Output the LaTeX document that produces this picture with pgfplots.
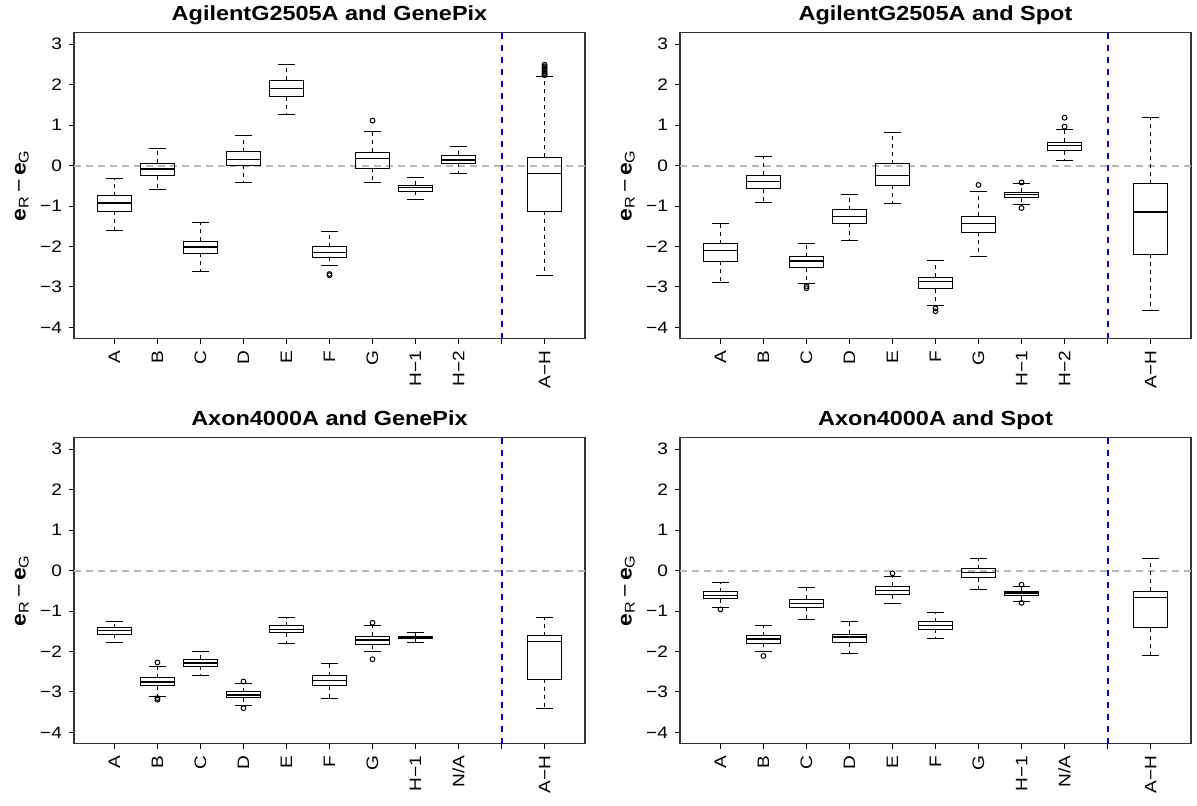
\documentclass[border=0pt]{standalone}
\usepackage{fontspec}
\setmainfont{Liberation Sans}[FakeStretch=1.15]
\usepackage{pgfplots}
\pgfplotsset{compat=1.18}
\usepgfplotslibrary{statistics}

\pgfplotsset{
  boxplot/draw/lower whisker/.code={%
    \draw[dash pattern=on 2pt off 2pt]
      (boxplot box cs:\pgfplotsboxplotvalue{lower quartile},0.5) --
      (boxplot box cs:\pgfplotsboxplotvalue{lower whisker},0.5);
    \draw[solid]
      (boxplot whisker cs:\pgfplotsboxplotvalue{lower whisker},0) --
      (boxplot whisker cs:\pgfplotsboxplotvalue{lower whisker},1);
  },
  boxplot/draw/upper whisker/.code={%
    \draw[dash pattern=on 2pt off 2pt]
      (boxplot box cs:\pgfplotsboxplotvalue{upper quartile},0.5) --
      (boxplot box cs:\pgfplotsboxplotvalue{upper whisker},0.5);
    \draw[solid]
      (boxplot whisker cs:\pgfplotsboxplotvalue{upper whisker},0) --
      (boxplot whisker cs:\pgfplotsboxplotvalue{upper whisker},1);
  },
  boxplot/every median/.style={line width=0.8pt},
  bx/.style={black, line width=0.5pt, solid, mark=o, mark size=1.2pt,
    mark options={solid, line width=0.5pt},
    boxplot/draw direction=y,
    boxplot/box extend=0.8, boxplot/whisker extend=0.4},
  every axis title shift=0pt,
  panel/.style={
    scale only axis, width=255.5pt, height=153.25pt,
    xmin=0.06, xmax=11.94, ymin=-4.28, ymax=3.29,
    xtick={1,...,11}, ytick={-4,...,3},
    yticklabels={−4,−3,−2,−1,0,1,2,3},
    tick align=outside, tick pos=left,
    major tick length=2.5pt,
    axis line style={line width=0.6pt, draw=black!80},
    every tick/.style={black, line width=0.5pt},
    tick label style={font=\fontsize{8.3}{9}\selectfont},
    xticklabel style={rotate=90, anchor=east},
    title style={font=\bfseries\fontsize{10.2}{12}\selectfont, at={(0.5,1)}, anchor=base, yshift=6pt},
    ylabel={\textbf{e}\textsubscript{R}\,−\,\textbf{e}\textsubscript{G}},
    ylabel style={font=\fontsize{10}{12}\selectfont, at={(axis description cs:-0.102,0.5)}, anchor=center},
    anchor=north west,
  },
  zero/.style={black!28, line width=1pt, dash pattern=on 3.5pt off 2.5pt},
  sep/.style={blue, line width=1pt, dash pattern=on 3pt off 3pt},
}

\begin{document}
\begin{tikzpicture}
\useasboundingbox (0,0) rectangle (598.5pt,-402.5pt);

% ---------- Panel 1 ----------
\begin{axis}[panel, at={(37pt,-16.15pt)}, title={AgilentG2505A and GenePix},
  xticklabels={A,B,C,D,E,F,G,H−1,H−2,,A−H}]
\addplot[zero] coordinates {(0.06,0) (11.94,0)};
\addplot[sep] coordinates {(10,-4.28) (10,3.29)};
\addplot[bx, boxplot prepared={draw position=1, lower whisker=-1.61, lower quartile=-1.13, median=-0.93, upper quartile=-0.75, upper whisker=-0.33}] coordinates {};
\addplot[bx, boxplot prepared={draw position=2, lower whisker=-0.59, lower quartile=-0.25, median=-0.09, upper quartile=0.06, upper whisker=0.41}] coordinates {};
\addplot[bx, boxplot prepared={draw position=3, lower whisker=-2.61, lower quartile=-2.17, median=-2.01, upper quartile=-1.87, upper whisker=-1.41}] coordinates {};
\addplot[bx, boxplot prepared={draw position=4, lower whisker=-0.41, lower quartile=0.01, median=0.15, upper quartile=0.34, upper whisker=0.75}] coordinates {};
\addplot[bx, boxplot prepared={draw position=5, lower whisker=1.26, lower quartile=1.70, median=1.90, upper quartile=2.10, upper whisker=2.49}] coordinates {};
\addplot[bx, boxplot prepared={draw position=6, lower whisker=-2.48, lower quartile=-2.26, median=-2.15, upper quartile=-2.01, upper whisker=-1.63}] coordinates {(0,-2.68) (0,-2.71)};
\addplot[bx, boxplot prepared={draw position=7, lower whisker=-0.43, lower quartile=-0.07, median=0.17, upper quartile=0.33, upper whisker=0.84}] coordinates {(0,1.11)};
\addplot[bx, boxplot prepared={draw position=8, lower whisker=-0.83, lower quartile=-0.63, median=-0.54, upper quartile=-0.49, upper whisker=-0.30}] coordinates {};
\addplot[bx, boxplot prepared={draw position=9, lower whisker=-0.20, lower quartile=0.05, median=0.14, upper quartile=0.25, upper whisker=0.48}] coordinates {};
\addplot[bx, boxplot prepared={draw position=11, lower whisker=-2.71, lower quartile=-1.13, median=-0.20, upper quartile=0.21, upper whisker=2.20}] coordinates {(0,2.23) (0,2.26) (0,2.29) (0,2.33) (0,2.37) (0,2.41) (0,2.45) (0,2.49)};
\end{axis}

% ---------- Panel 2 ----------
\begin{axis}[panel, at={(340pt,-16.15pt)}, title={AgilentG2505A and Spot},
  xticklabels={A,B,C,D,E,F,G,H−1,H−2,,A−H}]
\addplot[zero] coordinates {(0.06,0) (11.94,0)};
\addplot[sep] coordinates {(10,-4.28) (10,3.29)};
\addplot[bx, boxplot prepared={draw position=1, lower whisker=-2.89, lower quartile=-2.36, median=-2.10, upper quartile=-1.93, upper whisker=-1.42}] coordinates {};
\addplot[bx, boxplot prepared={draw position=2, lower whisker=-0.91, lower quartile=-0.57, median=-0.39, upper quartile=-0.24, upper whisker=0.23}] coordinates {};
\addplot[bx, boxplot prepared={draw position=3, lower whisker=-2.92, lower quartile=-2.52, median=-2.36, upper quartile=-2.25, upper whisker=-1.92}] coordinates {(0,-2.98) (0,-3.03)};
\addplot[bx, boxplot prepared={draw position=4, lower whisker=-1.86, lower quartile=-1.42, median=-1.26, upper quartile=-1.09, upper whisker=-0.72}] coordinates {};
\addplot[bx, boxplot prepared={draw position=5, lower whisker=-0.95, lower quartile=-0.49, median=-0.25, upper quartile=0.04, upper whisker=0.81}] coordinates {};
\addplot[bx, boxplot prepared={draw position=6, lower whisker=-3.45, lower quartile=-3.04, median=-2.86, upper quartile=-2.76, upper whisker=-2.34}] coordinates {(0,-3.53) (0,-3.60)};
\addplot[bx, boxplot prepared={draw position=7, lower whisker=-2.25, lower quartile=-1.65, median=-1.43, upper quartile=-1.25, upper whisker=-0.63}] coordinates {(0,-0.48)};
\addplot[bx, boxplot prepared={draw position=8, lower whisker=-0.97, lower quartile=-0.79, median=-0.72, upper quartile=-0.66, upper whisker=-0.45}] coordinates {(0,-0.42) (0,-1.05)};
\addplot[bx, boxplot prepared={draw position=9, lower whisker=0.13, lower quartile=0.37, median=0.49, upper quartile=0.58, upper whisker=0.90}] coordinates {(0,0.96) (0,1.18)};
\addplot[bx, boxplot prepared={draw position=11, lower whisker=-3.59, lower quartile=-2.19, median=-1.15, upper quartile=-0.45, upper whisker=1.18}] coordinates {};
\end{axis}

% ---------- Panel 3 ----------
\begin{axis}[panel, at={(37pt,-218.65pt)}, title={Axon4000A and GenePix},
  xticklabels={A,B,C,D,E,F,G,H−1,N/A,,A−H}]
\addplot[zero] coordinates {(0.06,0) (11.94,0)};
\addplot[sep] coordinates {(10,-4.28) (10,3.29)};
\addplot[bx, boxplot prepared={draw position=1, lower whisker=-1.78, lower quartile=-1.57, median=-1.48, upper quartile=-1.41, upper whisker=-1.25}] coordinates {};
\addplot[bx, boxplot prepared={draw position=2, lower whisker=-3.11, lower quartile=-2.84, median=-2.75, upper quartile=-2.65, upper whisker=-2.38}] coordinates {(0,-2.27) (0,-3.15) (0,-3.19)};
\addplot[bx, boxplot prepared={draw position=3, lower whisker=-2.59, lower quartile=-2.37, median=-2.28, upper quartile=-2.19, upper whisker=-2.00}] coordinates {};
\addplot[bx, boxplot prepared={draw position=4, lower whisker=-3.33, lower quartile=-3.14, median=-3.07, upper quartile=-2.99, upper whisker=-2.80}] coordinates {(0,-2.74) (0,-3.40)};
\addplot[bx, boxplot prepared={draw position=5, lower whisker=-1.80, lower quartile=-1.54, median=-1.46, upper quartile=-1.37, upper whisker=-1.17}] coordinates {};
\addplot[bx, boxplot prepared={draw position=6, lower whisker=-3.17, lower quartile=-2.84, median=-2.72, upper quartile=-2.60, upper whisker=-2.30}] coordinates {};
\addplot[bx, boxplot prepared={draw position=7, lower whisker=-2.00, lower quartile=-1.83, median=-1.71, upper quartile=-1.62, upper whisker=-1.37}] coordinates {(0,-1.29) (0,-2.19)};
\addplot[bx, boxplot prepared={draw position=8, lower whisker=-1.78, lower quartile=-1.69, median=-1.67, upper quartile=-1.63, upper whisker=-1.54}] coordinates {};
\addplot[bx, boxplot prepared={draw position=11, lower whisker=-3.40, lower quartile=-2.69, median=-1.75, upper quartile=-1.61, upper whisker=-1.17}] coordinates {};
\end{axis}

% ---------- Panel 4 ----------
\begin{axis}[panel, at={(340pt,-218.65pt)}, title={Axon4000A and Spot},
  xticklabels={A,B,C,D,E,F,G,H−1,N/A,,A−H}]
\addplot[zero] coordinates {(0.06,0) (11.94,0)};
\addplot[sep] coordinates {(10,-4.28) (10,3.29)};
\addplot[bx, boxplot prepared={draw position=1, lower whisker=-0.92, lower quartile=-0.70, median=-0.62, upper quartile=-0.53, upper whisker=-0.29}] coordinates {(0,-0.96)};
\addplot[bx, boxplot prepared={draw position=2, lower whisker=-2.01, lower quartile=-1.80, median=-1.69, upper quartile=-1.61, upper whisker=-1.36}] coordinates {(0,-2.11)};
\addplot[bx, boxplot prepared={draw position=3, lower whisker=-1.22, lower quartile=-0.91, median=-0.81, upper quartile=-0.71, upper whisker=-0.42}] coordinates {};
\addplot[bx, boxplot prepared={draw position=4, lower whisker=-2.06, lower quartile=-1.78, median=-1.64, upper quartile=-1.57, upper whisker=-1.25}] coordinates {};
\addplot[bx, boxplot prepared={draw position=5, lower whisker=-0.81, lower quartile=-0.60, median=-0.49, upper quartile=-0.39, upper whisker=-0.14}] coordinates {(0,-0.07)};
\addplot[bx, boxplot prepared={draw position=6, lower whisker=-1.67, lower quartile=-1.45, median=-1.36, upper quartile=-1.27, upper whisker=-1.04}] coordinates {};
\addplot[bx, boxplot prepared={draw position=7, lower whisker=-0.48, lower quartile=-0.18, median=-0.05, upper quartile=0.05, upper whisker=0.30}] coordinates {};
\addplot[bx, boxplot prepared={draw position=8, lower whisker=-0.76, lower quartile=-0.62, median=-0.56, upper quartile=-0.52, upper whisker=-0.39}] coordinates {(0,-0.35) (0,-0.80)};
\addplot[bx, boxplot prepared={draw position=11, lower whisker=-2.11, lower quartile=-1.41, median=-0.67, upper quartile=-0.51, upper whisker=0.30}] coordinates {};
\end{axis}
\end{tikzpicture}
\end{document}
